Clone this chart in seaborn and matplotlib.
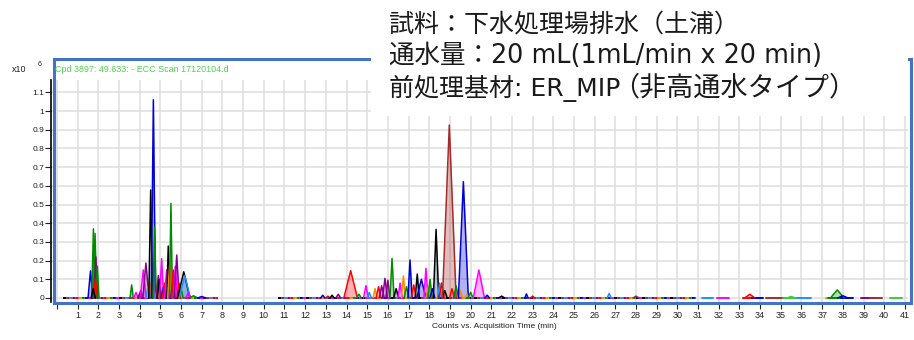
import matplotlib
matplotlib.use("Agg")
import matplotlib.pyplot as plt
from matplotlib.patches import Rectangle
import pandas as pd
import seaborn as sns

W, H = 914, 340

# trace colours of the extracted compound chromatograms
trace_colors = {
    "blue": "#0000D8",
    "green": "#008C00",
    "black": "#000000",
    "red": "#FF0000",
    "magenta": "#FF00FF",
    "purple": "#8B008B",
    "orange": "#FF8C00",
    "brown": "#A52A2A",
    "dodger": "#1E90FF",
    "lime": "#3CCB3C",
}
fill_colors = dict(trace_colors, black="#6F86A3")

# peaks: retention time (min), apex height (x10^6 counts), half base width (min), trace
peak_rt = [1.62, 1.76, 1.84, 1.88, 1.95, 1.86, 1.75,
           3.61, 3.82, 4.00, 4.05, 4.17, 4.30, 4.40, 4.48, 4.53, 4.66, 4.72,
           4.85, 4.90, 4.95, 5.06, 5.15, 5.20, 5.30, 5.38, 5.45, 5.51, 5.60,
           5.62, 5.72, 5.79, 5.90, 5.95, 6.00, 6.13, 6.18, 6.35, 6.60, 7.00,
           12.85, 13.10, 13.30, 13.60, 14.20, 14.60, 14.94, 15.10, 15.38, 15.55,
           15.70, 15.86, 16.00, 16.20, 16.40, 16.59, 16.75, 16.90, 17.07, 17.25,
           17.42, 17.62, 17.84, 17.95, 18.04, 18.15, 18.33, 18.50, 18.60, 18.75,
           18.97, 19.10, 19.30, 19.50, 19.65, 19.82, 20.00, 20.40, 20.80, 21.50,
           22.70, 23.00, 26.70, 28.00, 33.50, 35.50, 37.73, 38.00]
peak_height = [0.145, 0.37, 0.345, 0.22, 0.17, 0.10, 0.05,
               0.07, 0.03, 0.025, 0.04, 0.15, 0.187, 0.06, 0.085, 0.578, 1.06, 0.38,
               0.05, 0.12, 0.10, 0.21, 0.06, 0.08, 0.15, 0.278, 0.18, 0.506, 0.10,
               0.15, 0.17, 0.23, 0.08, 0.06, 0.05, 0.14, 0.12, 0.03, 0.012, 0.008,
               0.015, 0.01, 0.015, 0.02, 0.146, 0.02, 0.066, 0.03, 0.05, 0.06,
               0.065, 0.105, 0.095, 0.212, 0.05, 0.08, 0.118, 0.06, 0.203, 0.07,
               0.128, 0.10, 0.159, 0.06, 0.10, 0.05, 0.367, 0.08, 0.08, 0.04,
               0.925, 0.05, 0.065, 0.04, 0.622, 0.02, 0.03, 0.15, 0.015, 0.01,
               0.022, 0.01, 0.025, 0.01, 0.02, 0.008, 0.043, 0.012]
peak_halfwidth = [0.12, 0.08, 0.08, 0.08, 0.08, 0.10, 0.10,
                  0.08, 0.10, 0.10, 0.10, 0.14, 0.15, 0.10, 0.10, 0.09, 0.10, 0.08,
                  0.10, 0.10, 0.10, 0.10, 0.10, 0.10, 0.10, 0.07, 0.10, 0.07, 0.10,
                  0.08, 0.10, 0.12, 0.10, 0.10, 0.10, 0.30, 0.27, 0.12, 0.20, 0.20,
                  0.10, 0.10, 0.10, 0.12, 0.33, 0.12, 0.12, 0.10, 0.10, 0.12,
                  0.12, 0.12, 0.10, 0.10, 0.12, 0.10, 0.10, 0.12, 0.10, 0.12,
                  0.10, 0.22, 0.10, 0.12, 0.10, 0.12, 0.13, 0.10, 0.12, 0.12,
                  0.33, 0.12, 0.12, 0.12, 0.24, 0.10, 0.12, 0.27, 0.12, 0.15,
                  0.08, 0.10, 0.10, 0.15, 0.25, 0.20, 0.33, 0.25]
peak_trace = ["blue", "green", "green", "purple", "green", "red", "black",
              "green", "magenta", "purple", "purple", "magenta", "purple", "dodger",
              "orange", "black", "blue", "green",
              "orange", "purple", "black", "magenta", "blue", "red", "magenta",
              "black", "orange", "green", "purple",
              "red", "magenta", "purple", "red", "orange", "green", "black",
              "dodger", "magenta", "green", "blue",
              "blue", "red", "black", "purple", "red", "green", "magenta", "dodger",
              "orange", "red",
              "purple", "purple", "purple", "green", "black", "magenta", "orange",
              "green", "blue", "red",
              "black", "blue", "magenta", "orange", "green", "blue", "black",
              "dodger", "red", "black",
              "brown", "red", "green", "orange", "blue", "orange", "green",
              "magenta", "blue", "black",
              "blue", "red", "dodger", "brown", "red", "lime", "green", "blue"]

# continuous baseline windows where all traces overlap (min)
baseline_start = [0.3, 10.7]
baseline_end = [7.8, 30.9]
baseline_traces = ["black", "magenta", "blue", "green", "orange", "red",
                   "purple", "dodger", "brown"]

# short isolated baseline pieces in the late part of the run (min)
segment_start = [31.17, 31.90, 33.15, 33.60, 34.30, 35.10, 35.80, 37.20, 37.30,
                 37.90, 38.90, 39.30, 40.30]
segment_end = [31.73, 32.50, 33.90, 34.16, 35.30, 35.77, 36.45, 37.40, 38.10,
               38.50, 39.60, 39.90, 40.84]
segment_trace = ["dodger", "magenta", "red", "blue", "brown", "lime", "dodger",
                 "orange", "green", "blue", "purple", "brown", "lime"]

x_ticks = list(range(0, 42))
x_tick_labels = [""] + [str(v) for v in range(1, 42)]
y_ticks = [0, 0.1, 0.2, 0.3, 0.4, 0.5, 0.6, 0.7, 0.8, 0.9, 1.0, 1.1]
y_tick_labels = ["0", "0.1", "0.2", "0.3", "0.4", "0.5", "0.6", "0.7", "0.8",
                 "0.9", "1", "1.1"]

sample_line = "試料：下水処理場排水（土浦）"
volume_line = "通水量：20 mL(1mL/min x 20 min)"
sorbent_label = "前処理基材: ER_MIP"
sorbent_note = "（非高通水タイプ）"

sns.set_style("white")
plt.rcParams["font.family"] = ["Liberation Sans", "DejaVu Sans"]

fig = plt.figure(figsize=(W / 100, H / 100), dpi=100)
ax = fig.add_axes([51 / W, 1 - 302 / H, (908 - 51) / W, (302 - 80) / H])

# peak outlines as a long table
rows = []
for i, (rt, h, hw) in enumerate(zip(peak_rt, peak_height, peak_halfwidth)):
    pid = f"p{i:02d}"
    rows += [(pid, rt - hw, 0.0), (pid, rt, h), (pid, rt + hw, 0.0)]
peaks = pd.DataFrame(rows, columns=["peak", "time", "counts"])
peak_palette = {f"p{i:02d}": trace_colors[t] for i, t in enumerate(peak_trace)}

# baselines, interleaved dashes so every trace colour shows
n = len(baseline_traces)
for s, e in zip(baseline_start, baseline_end):
    for k, t in enumerate(baseline_traces):
        sns.lineplot(x=[s, e], y=[0.0, 0.0], color=trace_colors[t], lw=1.4,
                     linestyle=(k * 1.6, (1.6, 1.6 * (n - 1))), ax=ax,
                     estimator=None, sort=False, zorder=3)
for s, e, t in zip(segment_start, segment_end, segment_trace):
    sns.lineplot(x=[s, e], y=[0.0, 0.0], color=trace_colors[t], lw=1.4, ax=ax,
                 estimator=None, sort=False, zorder=3)

# translucent peak areas
for pid, grp in peaks.groupby("peak"):
    t = peak_trace[int(pid[1:])]
    alpha = 0.5 if t == "black" else 0.3
    ax.fill_between(grp["time"], grp["counts"], 0, color=fill_colors[t],
                    alpha=alpha, lw=0, zorder=2)

sns.lineplot(data=peaks, x="time", y="counts", hue="peak", palette=peak_palette,
             estimator=None, sort=False, legend=False, lw=1.1, ax=ax, zorder=4)

ax.set_xlim(-0.29, 41.15)
ax.set_ylim(-0.0214, 1.166)
ax.set_xticks(x_ticks)
ax.set_xticklabels(x_tick_labels)
ax.set_yticks(y_ticks)
ax.set_yticklabels(y_tick_labels)
ax.set_xlabel("")
ax.set_ylabel("")
ax.grid(True, color="#DEDEDE", lw=1.1, zorder=0)
ax.set_axisbelow(True)
for side in ("top", "right", "bottom"):
    ax.spines[side].set_visible(False)
ax.spines["left"].set_color("black")
ax.spines["left"].set_linewidth(1.2)
ax.tick_params(axis="y", direction="out", length=4, width=0.8, pad=1,
               labelsize=6, colors="#222222", left=True)
ax.tick_params(axis="x", direction="out", length=5, width=0.8, pad=1.5,
               labelsize=6.5, colors="#222222", bottom=True)

# selection frame around the plot
fx0, fx1, fy0, fy1 = 53.5, 910.5, 58.5, 302.5
fig.add_artist(Rectangle((fx0 / W, 1 - fy1 / H), (fx1 - fx0) / W, (fy1 - fy0) / H,
                         transform=fig.transFigure, fill=False,
                         edgecolor="#4472C4", lw=2.2, zorder=5))

fig.text(55 / W, 1 - 69 / H, "Cpd 3897: 49.633: - ECC Scan 17120104.d",
         color="#4CD44C", fontsize=6.4, va="center", ha="left", zorder=6)
fig.text(12 / W, 1 - 69 / H, "x10", fontsize=6.4, va="center", ha="left",
         color="#222222")
fig.text(38 / W, 1 - 65 / H, "6", fontsize=5, va="center", ha="left",
         color="#222222")
fig.text(494 / W, 1 - 327 / H, "Counts vs. Acquisition Time (min)", fontsize=6,
         va="center", ha="center", color="#222222")

# annotation panel with the sample conditions
fig.add_artist(Rectangle((371 / W, 1 - 116 / H), (908 - 371) / W, 116 / H,
                         transform=fig.transFigure, facecolor="white",
                         edgecolor="none", zorder=7))
jp_family = ["DejaVu Sans", "Noto Sans CJK JP"]
text_kw = dict(va="center", family=jp_family, color="#1A1A1A", zorder=8)
fig.text(389 / W, 1 - 24 / H, sample_line, fontsize=18, ha="left", **text_kw)
fig.text(389 / W, 1 - 56 / H, volume_line, fontsize=18.4, ha="left", **text_kw)
fig.text(389 / W, 1 - 88 / H, sorbent_label, fontsize=18, ha="left", **text_kw)
fig.text(612 / W, 1 - 88 / H, sorbent_note, fontsize=19.5, ha="left", **text_kw)

fig.savefig("out.png", dpi=100)
